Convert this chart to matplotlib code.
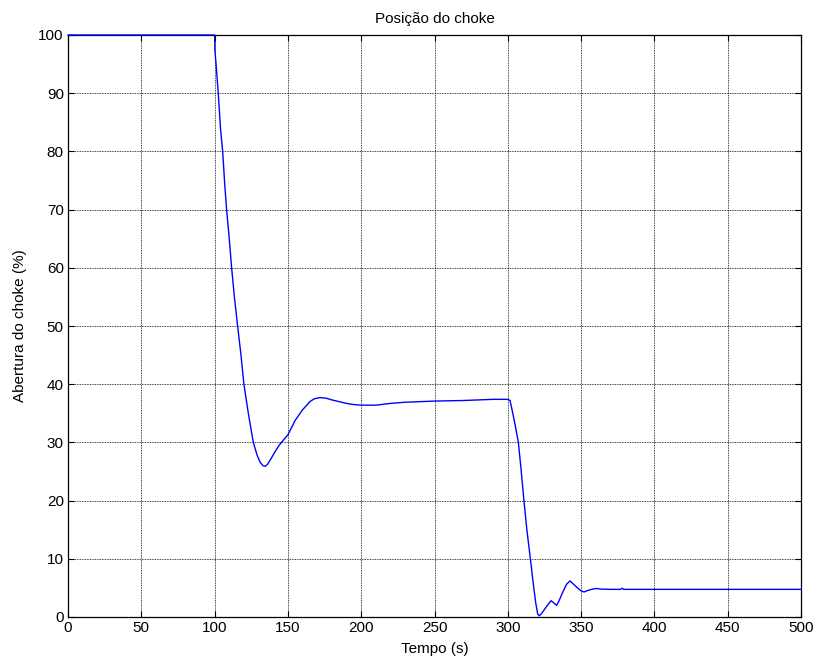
import matplotlib
matplotlib.use("Agg")
import matplotlib.pyplot as plt

# Choke opening over time
tempo = [0, 100, 100.2, 101, 102.5, 104, 105.5, 107, 108.2, 110, 111.6, 113.5,
         115.7, 118, 120, 123, 126.4, 129, 131, 133, 134.5, 136, 138, 141, 144,
         147.6, 150, 155, 160, 165, 168, 172, 176, 180, 185, 190, 195, 200, 210,
         220, 230, 240, 250, 270, 290, 300, 301.5, 303, 305, 307.2, 309, 311,
         313, 315.4, 317.5, 319, 320.4, 321.5, 323, 325, 327, 329.5, 331, 333.3,
         335, 337, 340, 342.4, 345, 348, 350, 352, 355, 358, 360.6, 363, 370,
         377, 378, 379, 500]
abertura = [100, 100, 97.4, 95, 90, 84, 80, 74, 70, 65, 60, 55,
            50, 45, 40, 35, 30, 27.8, 26.6, 26.0, 25.9, 26.2, 27.0, 28.3, 29.5,
            30.6, 31.3, 33.8, 35.6, 37.0, 37.5, 37.7, 37.6, 37.3, 37.0, 36.7, 36.5, 36.4, 36.4,
            36.7, 36.9, 37.0, 37.1, 37.2, 37.4, 37.4, 37.2, 35.5, 33, 30, 25.5, 20,
            15, 10, 5.5, 2.5, 0.5, 0.2, 0.6, 1.3, 2.0, 2.8, 2.5, 2.0,
            2.8, 4.0, 5.6, 6.2, 5.6, 4.9, 4.5, 4.3, 4.6, 4.8, 4.9, 4.8, 4.75,
            4.75, 4.95, 4.75, 4.75]

xticks = list(range(0, 501, 50))
yticks = list(range(0, 101, 10))

plt.rcParams['font.family'] = ['Liberation Sans', 'DejaVu Sans']

fig = plt.figure(figsize=(8.19, 6.62), dpi=100)
ax = fig.add_axes([68 / 819, 45 / 662, (801 - 68) / 819, (617 - 35) / 662])

# drawn above the frame, unclipped, so the segment at 100 % shows on the top edge
ax.plot(tempo, abertura, color='#0000ff', linewidth=1.0, zorder=3, clip_on=False)

ax.set_xlim(0, 500)
ax.set_ylim(0, 100)
ax.set_xticks(xticks)
ax.set_yticks(yticks)
ax.grid(True, color='black', linestyle=(0, (1, 1)), linewidth=0.6)
ax.tick_params(direction='in', length=4, width=0.8, labelsize=11,
               top=True, right=True, pad=3)
for s in ax.spines.values():
    s.set_linewidth(0.9)

ax.set_title('Posição do choke', fontsize=11, pad=9)
ax.set_xlabel('Tempo (s)', fontsize=11, labelpad=5)
ax.set_ylabel('Abertura do choke (%)', fontsize=11, labelpad=8)

fig.savefig('out.png', dpi=100, facecolor='white')
